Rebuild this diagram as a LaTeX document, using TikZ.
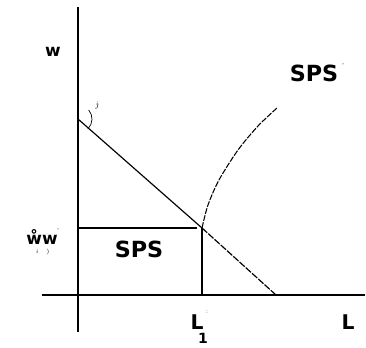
\documentclass[tikz,border=0pt]{standalone}
\usepackage{fontspec}
\setsansfont{DejaVu Sans}
\usepackage{xcolor}
\usetikzlibrary{math}

\begin{document}
\begin{tikzpicture}[x=0.03cm,y=-0.03cm]
\tikzmath{
\xo=78;
\yo=295;
\ws=228;
\ls=202;
\wt=119;
\lt=276;
}
\useasboundingbox (0,0) rectangle (366,348);
\tikzset{lbl/.style={font=\fontsize{19}{20}\sffamily\bfseries}}

% axes
\draw[line width=1.2pt] (\xo,7) -- (\xo,332);
\draw[line width=1.2pt] (42,\yo) -- (365,\yo);

\coordinate (top) at (\xo,\wt);
\coordinate (cross) at (\ls,\ws);
\coordinate (end) at (\lt,\yo);

% budget line
\draw[line width=1pt] (top) -- (cross);
\draw[line width=1pt,dash pattern=on 6pt off 1.2pt] (cross) -- (end);
\draw[line width=0.6pt] (top) ++(45:14) arc (45:-40:14);
\node[font=\scriptsize] at (97,106) {$\dot{\jmath}$};

% SPS region
\draw[line width=1pt] (\xo,\ws) -- (197,\ws);
\draw[line width=1.2pt] (cross) -- (\ls,\yo);

%%%%%%%%%%   SPS' curve
\draw[line width=0.9pt,dash pattern=on 5pt off 1.2pt] plot[smooth] coordinates {(cross) (208,205) (219,180) (238,150) (258,126) (277,108)};

% labels
\node[font=\Large\sffamily\bfseries] (w) at (53,52) {w};
\node[lbl] (sps) at (139,249) {SPS};
\node[lbl] (spsc) at (314,73) {SPS};
\node[font=\tiny] at (343,65) {'};
\node[font=\Large\sffamily\bfseries] (wr) at (42,237) {\r{w}w};
\node[font=\tiny] at (58,230) {'};
\node[font=\tiny\itshape] at (37,252) {i};
\node[font=\tiny] at (48,252) {)};
\node[font=\LARGE\sffamily\bfseries] (ls) at (197,322) {L};
\node[font=\tiny] at (207,312) {:};
\node[font=\large\sffamily\bfseries] (one) at (203,338) {1};
\node[font=\LARGE\sffamily\bfseries] (l) at (348,322) {L};
\end{tikzpicture}
\end{document}
